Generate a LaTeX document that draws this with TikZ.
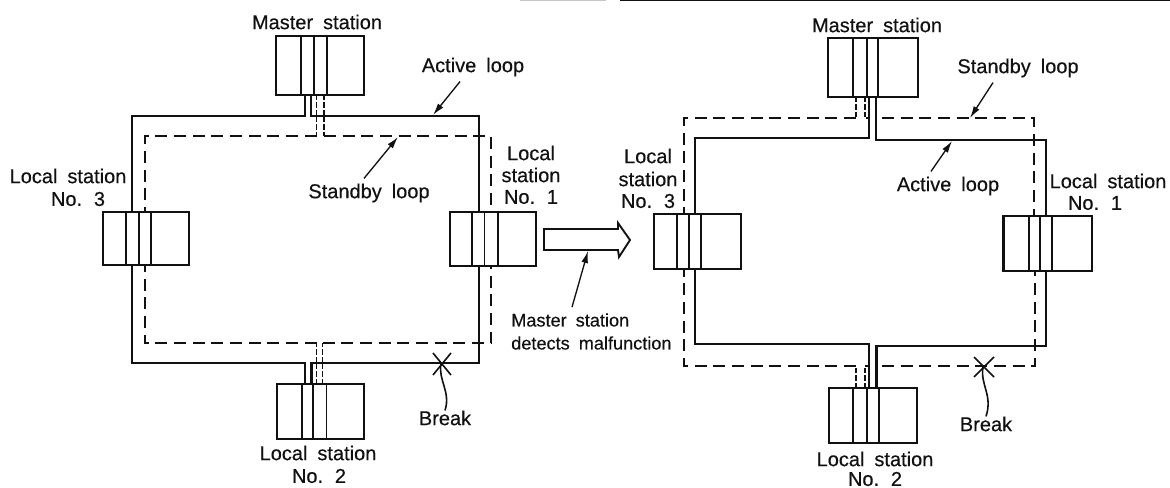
\documentclass[tikz,border=0pt]{standalone}
\usepackage{fontspec}
\setmainfont{Liberation Sans}[WordSpace=1.8,FakeBold=.35]
\usetikzlibrary{arrows.meta,calc,positioning}
\definecolor{ink}{HTML}{111111}
\tikzset{
  stationbox/.style={draw=ink,line width=1.6pt,inner sep=0pt},
  innerline/.style={ink,line width=1.4pt},
  loopactive/.style={ink,line width=1.6pt,line join=miter},
  loopstandby/.style={ink,line width=1.6pt,dash pattern=on 9pt off 5pt},
  stubstandby/.style={ink,line width=1.4pt,dash pattern=on 4pt off 1.5pt},
  callout/.style={-{Latex[length=9pt,width=5pt]},ink,line width=1pt},
  breakmark/.style={ink,line width=1.2pt},
  lbl/.style={text=ink,inner sep=0pt,font=\fontsize{15}{17}\selectfont},
  lblsmall/.style={text=ink,inner sep=0pt,anchor=west,font=\fontsize{13.6}{15}\selectfont},
}
\newcommand{\stationunit}[6]{%
  \node[stationbox,minimum width={(#3-#2)*.75pt},minimum height={(#5-#4)*.75pt}] (#1) at ({(#2+#3)/2},{(#4+#5)/2}) {};
  \foreach \xl in {#6}{
    \draw[innerline] (\xl,#4) -- (\xl,#5);
  }
}
\begin{document}
\begin{tikzpicture}[x=.75pt,y=-.75pt,line cap=butt]
  \path[use as bounding box] (0,0) rectangle (1170,488);
  \fill[white] (0,0) rectangle (1170,488);
  \draw[ink!25,line width=.9pt] (520,.6) -- (606,.6);
  \draw[ink,line width=.9pt] (620,.6) -- (1170,.6);

  % left: active on the outside
  \stationunit{lmaster}{276}{364}{36}{95}{301,314,327}
  \stationunit{llocalthree}{103}{189}{212}{265}{126,139,151}
  \stationunit{llocalone}{450}{536}{212}{266}{472,484.5,498}
  \stationunit{llocaltwo}{277}{364}{384}{439}{302,313,326.5}

  \draw[loopactive] (305,95) -- ++(0,21) -| (132,212);
  \draw[loopactive] (311,95) -- ++(0,21) -| (479,212);
  \draw[loopactive] (305,384) -- ++(0,-21) -| (132,265);
  \draw[loopactive] (311.5,384) -- ++(0,-21) -| (479,266);

  \draw[stubstandby] (316.5,95) -- (316.5,136);
  \draw[stubstandby] (324,95) -- (324,136);
  \draw[loopstandby] (316.5,136) -| (145,212);
  \draw[loopstandby] (324,136) -| (491,212);
  \draw[stubstandby] (316.5,384) -- (316.5,343);
  \draw[stubstandby] (322.5,384) -- (322.5,343);
  \draw[loopstandby] (316.5,343) -| (145,265);
  \draw[loopstandby] (322.5,343) -| (491,266);

  \node[lbl] (lmastertxt) at (317,22) {Master station};
  \node[lbl] (lactivetxt) at (473,67) {Active loop};
  \node[lbl] (lstandbytxt) at (369,193) {Standby loop};
  \node[lbl] (lthreea) at (68,176) {Local station};
  \node[lbl] (lthreeb) at (78,199) {No. 3};
  \node[lbl] (lonea) at (531,153) {Local};
  \node[lbl] (loneb) at (531,175) {station};
  \node[lbl] (lonec) at (531,197) {No. 1};
  \node[lbl] (ltwoa) at (318,453) {Local station};
  \node[lbl] (ltwob) at (319,476) {No. 2};
  \node[lbl] (lbreaktxt) at (445,418) {Break};

  \coordinate (lactivetip) at (433,115);
  \coordinate (lstandbytip) at (398,137);
  \draw[callout] ([shift={(-13,5)}]lactivetxt.south) -- (lactivetip);
  \draw[callout] ([shift={(-5,-5)}]lstandbytxt.north) -- (lstandbytip);

  \coordinate (lcross) at (441,364);
  \draw[breakmark] (lcross) ++(-8,-11) -- ++(18,22);
  \draw[breakmark] (lcross) ++(10,-11) -- ++(-18,22);
  \draw[breakmark] (lcross) .. controls (438,380) and (451,392) .. (lbreaktxt.north);

  % hollow arrow between the two states
  \draw[ink,line width=1.4pt,line join=miter] (544,229) -- (618,229) -- (618,223) -- (630,240) -- (619,257) -- (618,250) -- (544,250) -- cycle;
  \coordinate (shifttip) at (588,251);
  \node[lblsmall] (detecta) at (511,320) {Master station};
  \node[lblsmall] (detectb) at (511,343) {detects malfunction};
  \draw[callout] ([shift={(61,-6)}]detecta.north west) -- (shifttip);

  % right: active on the inside
  \stationunit{rmaster}{828}{918}{38}{97}{853,867,878}
  \stationunit{rlocalthree}{654}{741}{214}{269}{677,689,701}
  \stationunit{rlocalone}{1003.5}{1092}{216}{271}{1029,1040,1052}
  \stationunit{rlocaltwo}{829}{917}{388}{443}{853,867,879}

  \draw[loopactive] (869,97) -- ++(0,41) -| (695,214);
  \draw[loopactive] (876,97) -- ++(0,43) -| (1046,216);
  \draw[loopactive] (869,388) -- ++(0,-44) -| (695,269);
  \draw[loopactive] (876.5,388) -- ++(0,-42) -| (1046,271);

  \draw[stubstandby] (856,97) -- (856,118);
  \draw[stubstandby] (865,97) -- (865,118) -- (869,118);
  \draw[loopstandby] (856,118) -| (684,214);
  \draw[loopstandby] (882,118) -| (1034,216);
  \draw[stubstandby] (856,388) -- (856,366);
  \draw[stubstandby] (865,388) -- (865,366) -- (869,366);
  \draw[loopstandby] (856,366) -| (684,269);
  \draw[loopstandby] (882,366) -| (1035,271);

  \node[lbl] (rmastertxt) at (877,25) {Master station};
  \node[lbl] (rstandbytxt) at (1018,68) {Standby loop};
  \node[lbl] (ractivetxt) at (948,186) {Active loop};
  \node[lbl] (rthreea) at (648,156) {Local};
  \node[lbl] (rthreeb) at (648,179) {station};
  \node[lbl] (rthreec) at (648,201) {No. 3};
  \node[lbl] (ronea) at (1108,181) {Local station};
  \node[lbl] (roneb) at (1095,203) {No. 1};
  \node[lbl] (rtwoa) at (875,459) {Local station};
  \node[lbl] (rtwob) at (875,479) {No. 2};
  \node[lbl] (rbreaktxt) at (986,424) {Break};

  \coordinate (rstandbytip) at (970,118);
  \coordinate (ractivetip) at (952,141);
  \draw[callout] ([shift={(-25,5)}]rstandbytxt.south) -- (rstandbytip);
  \draw[callout] ([shift={(-17,-5)}]ractivetxt.north) -- (ractivetip);

  \coordinate (rcross) at (983,367);
  \draw[breakmark] (rcross) ++(-9,-10) -- ++(20,20);
  \draw[breakmark] (rcross) ++(11,-10) -- ++(-20,20);
  \draw[breakmark] (rcross) .. controls (980,385) and (993,395) .. (rbreaktxt.north);
\end{tikzpicture}
\end{document}
